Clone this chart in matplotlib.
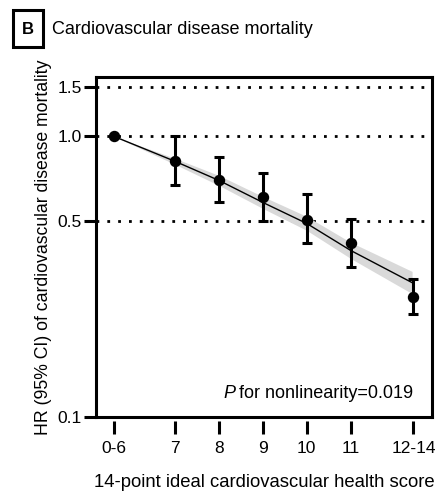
import matplotlib

matplotlib.use("Agg")
import matplotlib.pyplot as plt
from matplotlib.patches import Rectangle

plt.rcParams["font.family"] = ["Liberation Sans", "DejaVu Sans"]

# score groups (x = mean score within group)
group_labels = ["0-6", "7", "8", "9", "10", "11", "12-14"]
group_x = [5.6, 7, 8, 9, 10, 11, 12.43]
hr = [1.0, 0.814, 0.697, 0.606, 0.505, 0.418, 0.268]
ci_low = [1.0, 0.668, 0.581, 0.497, 0.415, 0.343, 0.233]
ci_high = [1.0, 1.0, 0.841, 0.738, 0.621, 0.509, 0.311]

# restricted cubic spline fit and its 95% band
fit_x = [5.6, 7, 8, 9, 10, 11, 12.4]
fit_hr = [1.0, 0.814, 0.696, 0.581, 0.489, 0.392, 0.301]
fit_low = [1.0, 0.794, 0.668, 0.553, 0.462, 0.367, 0.275]
fit_high = [1.0, 0.834, 0.725, 0.610, 0.518, 0.419, 0.330]

ref_lines = [0.5, 1.0, 1.5]
y_ticks = [0.1, 0.5, 1.0, 1.5]

fig = plt.figure(figsize=(4.39, 4.97), dpi=100)
ax = fig.add_axes([0.2187, 0.161, 0.765, 0.684])

ax.set_yscale("log")
ax.set_ylim(0.1, 1.625)
ax.set_xlim(5.2, 12.85)

for y in ref_lines:
    ax.axhline(y, color="black", lw=2.0, linestyle=(0, (1, 2.9)), zorder=1)

ax.fill_between(fit_x, fit_low, fit_high, color="#d9d9d9", lw=0, zorder=2)
ax.plot(fit_x, fit_hr, color="black", lw=1.0, zorder=3)

yerr_lo = [h - l for h, l in zip(hr[1:], ci_low[1:])]
yerr_hi = [u - h for h, u in zip(hr[1:], ci_high[1:])]
ax.errorbar(group_x[1:], hr[1:], yerr=[yerr_lo, yerr_hi], fmt="none",
            ecolor="black", elinewidth=2.2, capsize=3.6, capthick=2.2, zorder=4)
ax.plot(group_x, hr, "o", color="black", markersize=7.2, zorder=5)

ax.set_yticks(y_ticks)
ax.set_yticklabels(["0.1", "0.5", "1.0", "1.5"])
ax.yaxis.set_minor_locator(matplotlib.ticker.NullLocator())
ax.set_xticks(group_x)
ax.set_xticklabels(group_labels)

for side in ["left", "top", "right"]:
    ax.spines[side].set_linewidth(2.2)
ax.spines["bottom"].set_position(("outward", 3))
ax.spines["bottom"].set_visible(False)
ax.axhline(0.1, color="black", lw=2.2, clip_on=False, zorder=6)

ax.tick_params(axis="y", length=9, width=2.2, labelsize=12.5, pad=1)
ax.tick_params(axis="x", length=9, width=2.2, labelsize=12.5, pad=5)

ax.set_ylabel("HR (95% CI) of cardiovascular disease mortality", fontsize=12.7, labelpad=4)
ax.set_xlabel("14-point ideal cardiovascular health score", fontsize=13.3, labelpad=13)

note = ax.text(0.945, 0.055, "for nonlinearity=0.019", transform=ax.transAxes,
               ha="right", va="baseline", fontsize=13)

fig.text(52 / 439, 1 - 30 / 497, "Cardiovascular disease mortality",
         ha="left", va="center", fontsize=13)
fig.patches.append(Rectangle((13 / 439, 1 - 47 / 497), 30 / 439, 37 / 497,
                             transform=fig.transFigure, fill=False, lw=2.2,
                             edgecolor="black"))
fig.text(28 / 439, 1 - 29 / 497, "B", ha="center", va="center",
         fontsize=12, fontweight="bold")

# italic P just left of the annotation text, same baseline
fig.canvas.draw()
bb = note.get_window_extent()
x_ax, y_ax = ax.transAxes.inverted().transform((bb.x0 - 4, 0))
ax.text(x_ax, 0.055, "P", transform=ax.transAxes, ha="right", va="baseline",
        fontsize=13, style="italic")

fig.savefig("out.png", dpi=100)
